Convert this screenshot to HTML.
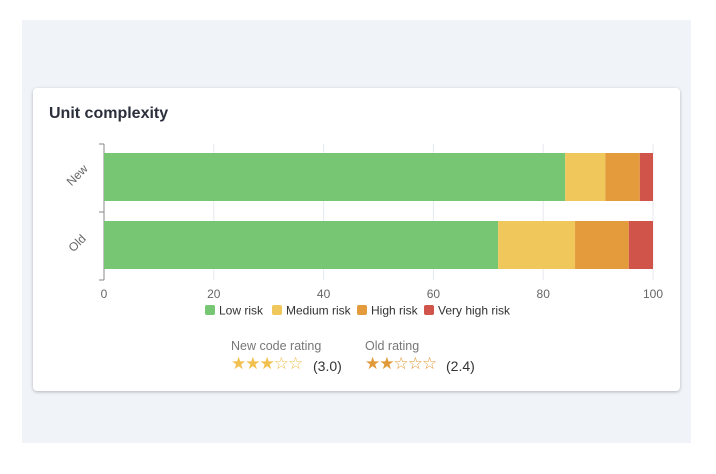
<!DOCTYPE html>
<html><head><meta charset="utf-8"><style>
body{margin:0;width:716px;height:474px;background:#fff;font-family:"Liberation Sans",sans-serif;position:relative;overflow:hidden}
#bg{position:absolute;left:22px;top:20px;width:669px;height:423px;background:#f0f3f8}
#card{position:absolute;left:33px;top:88px;width:647px;height:303px;background:#fff;border-radius:4px;box-shadow:0 1px 3px rgba(0,0,0,.25)}
#title{position:absolute;left:16px;top:17px;font-size:16px;font-weight:bold;color:#2a2f3a}
.r{position:absolute;font-size:12.5px;color:#777}
.s{position:absolute;font-size:17px;letter-spacing:-1px}
.v{position:absolute;font-size:14px;color:#333}
</style></head><body>
<div id="bg"></div>
<div id="card">
<div id="title">Unit complexity</div>
<div class="r" style="left:198px;top:251px">New code rating</div>
<div class="s" style="left:198px;top:266px;color:#f0c050">★★★☆☆</div>
<div class="v" style="left:280px;top:270px">(3.0)</div>
<div class="r" style="left:332px;top:251px">Old rating</div>
<div class="s" style="left:332px;top:266px;color:#e09a3a">★★☆☆☆</div>
<div class="v" style="left:413px;top:270px">(2.4)</div>
</div>
<svg id="chart" width="716" height="474" style="position:absolute;left:0;top:0"></svg>
<script>
const categories=["New","Old"];
const seriesNames=["Low risk","Medium risk","High risk","Very high risk"];
const lowRisk=[84,71.8];
const mediumRisk=[7.3,14];
const highRisk=[6.3,9.8];
const veryHighRisk=[2.4,4.4];
const ticks=[0,20,40,60,80,100];
const colors=["#76c673","#f0c75a","#e39b3c","#d0544a"];
const series=[lowRisk,mediumRisk,highRisk,veryHighRisk];
const svg=document.getElementById('chart');const NS="http://www.w3.org/2000/svg";
const x0=104,x1=653,yTop=144,band=68;
const xs=v=>x0+(x1-x0)*v/100;
function mk(t,a){const e=document.createElementNS(NS,t);for(const k in a)e.setAttribute(k,a[k]);svg.appendChild(e);return e;}
ticks.forEach(t=>{
 const g=mk('line',{x1:xs(t),x2:xs(t),y1:yTop,y2:yTop+band*categories.length,stroke:'#e6e9f0'});
 
 
 const l=mk('text',{x:xs(t),y:298,'text-anchor':'middle','font-size':12,fill:'#666'});l.textContent=t;
 
 
});
const ax=mk('line',{x1:x0,x2:x0,y1:yTop,y2:yTop+band*categories.length,stroke:'#888'});


for(let i=0;i<=categories.length;i++){const tk=mk('line',{x1:x0-5,x2:x0,y1:yTop+band*i,y2:yTop+band*i,stroke:'#888'});
 
 }
categories.forEach((c,i)=>{
 let acc=0;const y=yTop+band*i+9;
 series.forEach((s,j)=>{
  const r=mk('rect',{x:xs(acc),y:y,width:xs(acc+s[i])-xs(acc),height:48,fill:colors[j]});
  
  
  acc+=s[i];
 });
 const cy=yTop+band*i+band/2;
 const t=mk('text',{x:0,y:0,'text-anchor':'middle','font-size':12,fill:'#666',transform:`translate(80,${cy}) rotate(-45)`});t.textContent=c;
 
 
});
const lx=[205,272,357,424];
seriesNames.forEach((n,j)=>{
 const r=mk('rect',{x:lx[j],y:305,width:10,height:10,rx:2,fill:colors[j]});
 
 
 const t=mk('text',{x:lx[j]+14,y:314.5,'font-size':12,fill:'#333'});t.textContent=n;
 
 
});
</script>
</body></html>
